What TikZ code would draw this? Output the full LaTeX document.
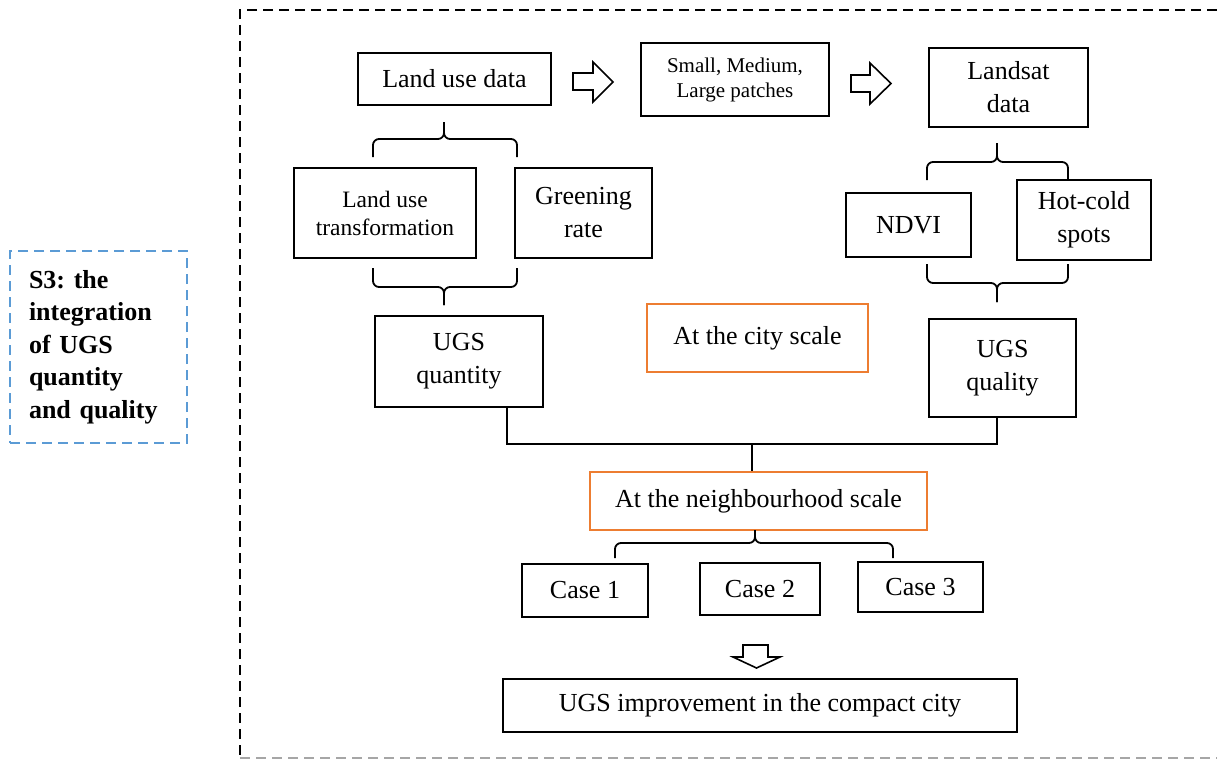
\documentclass[tikz,border=0pt]{standalone}
\usepackage{fontspec}
\setmainfont{Liberation Serif}
\frenchspacing
\definecolor{orangeA}{HTML}{ED7D31}
\definecolor{blueA}{HTML}{5B9BD5}
\newcommand\curlyb[6]{% x1, x2, xtip, yend, yh, ytip
  \draw[brc] (#1,#4) |- (#3,#5) -- (#3,#6);
  \draw[brc] (#2,#4) |- (#3,#5) -- (#3,#6);}
\begin{document}
\begin{tikzpicture}[x=1pt,y=-1pt,
  box/.style={draw, line width=1.8pt, inner sep=0pt, align=center,
    font=\fontsize{26}{33}\selectfont},
  orbox/.style={box, draw=orangeA},
  brc/.style={line width=1.8pt, rounded corners=6pt},
  hollow/.style={draw, line width=1.6pt, fill=white, line join=miter},
  conn/.style={line width=1.8pt}]
\useasboundingbox (0,0) rectangle (1217,760);

% outer dashed frame
\draw[line width=1.6pt, dash pattern=on 10pt off 6pt] (1217,10) -- (240,10) -- (240,760);
\draw[line width=1.2pt, gray!70, dash pattern=on 10pt off 6pt] (240,758) -- (1217,758);

% S3 label
\node[draw=blueA, line width=1.4pt, dash pattern=on 10pt off 6pt,
  minimum width=177pt, minimum height=192pt, inner sep=0pt,
  text width=139pt, align=left,
  font=\fontsize{26}{32.5}\selectfont\bfseries] (s3) at (98.5,347)
  {S3: the\\integration\\of UGS\\quantity\\and quality};

% top row
\node[box, minimum width=193pt, minimum height=52pt] (lud) at (454.5,79) {Land use data};
\node[box, minimum width=188pt, minimum height=73pt,
  font=\fontsize{21}{25}\selectfont] (sml) at (735,79.5) {Small, Medium,\\Large patches};
\node[box, minimum width=159pt, minimum height=79pt] (lsd) at (1008.5,87.5) {Landsat\\data};

% second row
\node[box, minimum width=182pt, minimum height=90pt,
  font=\fontsize{23.5}{28}\selectfont] (lut) at (385,213) {Land use\\transformation};
\node[box, minimum width=137pt, minimum height=90pt] (gr) at (583.5,213) {Greening\\rate};
\node[box, minimum width=125pt, minimum height=64pt] (ndvi) at (908.5,225) {NDVI};
\node[box, minimum width=134pt, minimum height=80pt] (hcs) at (1084,220) {Hot-cold\\spots};

% third row
\node[box, minimum width=168pt, minimum height=91pt] (ugsqn) at (459,361.5) {UGS\\quantity};
\node[orbox, minimum width=221pt, minimum height=68pt] (city) at (757.5,338) {At the city scale};
\node[box, minimum width=147pt, minimum height=98pt] (ugsql) at (1002.5,368) {UGS\\quality};

% neighbourhood
\node[orbox, minimum width=337pt, minimum height=58pt] (nbh) at (758.5,501) {At the neighbourhood scale};
\node[box, minimum width=126pt, minimum height=53pt] (c1) at (585,590.5) {Case 1};
\node[box, minimum width=120pt, minimum height=52pt] (c2) at (760,589) {Case 2};
\node[box, minimum width=125pt, minimum height=50pt] (c3) at (920.5,587) {Case 3};
\node[box, minimum width=514pt, minimum height=53pt] (imp) at (760,705.5) {UGS improvement in the compact city};

% hollow arrows
\draw[hollow] (573,73) -- (593,73) -- (593,62) -- (613,82) -- (593,102) -- (593,90) -- (573,90) -- cycle;
\draw[hollow] (851,75) -- (870,75) -- (870,63) -- (891,83.5) -- (870,104) -- (870,92) -- (851,92) -- cycle;
\draw[hollow] (743,645) -- (768,645) -- (768,657) -- (780,657) -- (756.5,668) -- (733,657) -- (743,657) -- cycle;

% braces
\curlyb{373}{517}{444}{157}{139}{122}
\curlyb{373}{517}{444}{268}{287}{305}
\curlyb{927}{1068}{997}{180}{162}{143}
\curlyb{927}{1068}{997}{264}{283}{302}
\curlyb{615}{893}{755}{558}{543}{530}

% connectors
\coordinate (jn) at (752,444);
\draw[conn] ([xshift=48pt]ugsqn.south) |- (jn) -| ([xshift=-5.5pt]ugsql.south);
\draw[conn] (jn) -- (jn |- nbh.north);
\end{tikzpicture}
\end{document}
